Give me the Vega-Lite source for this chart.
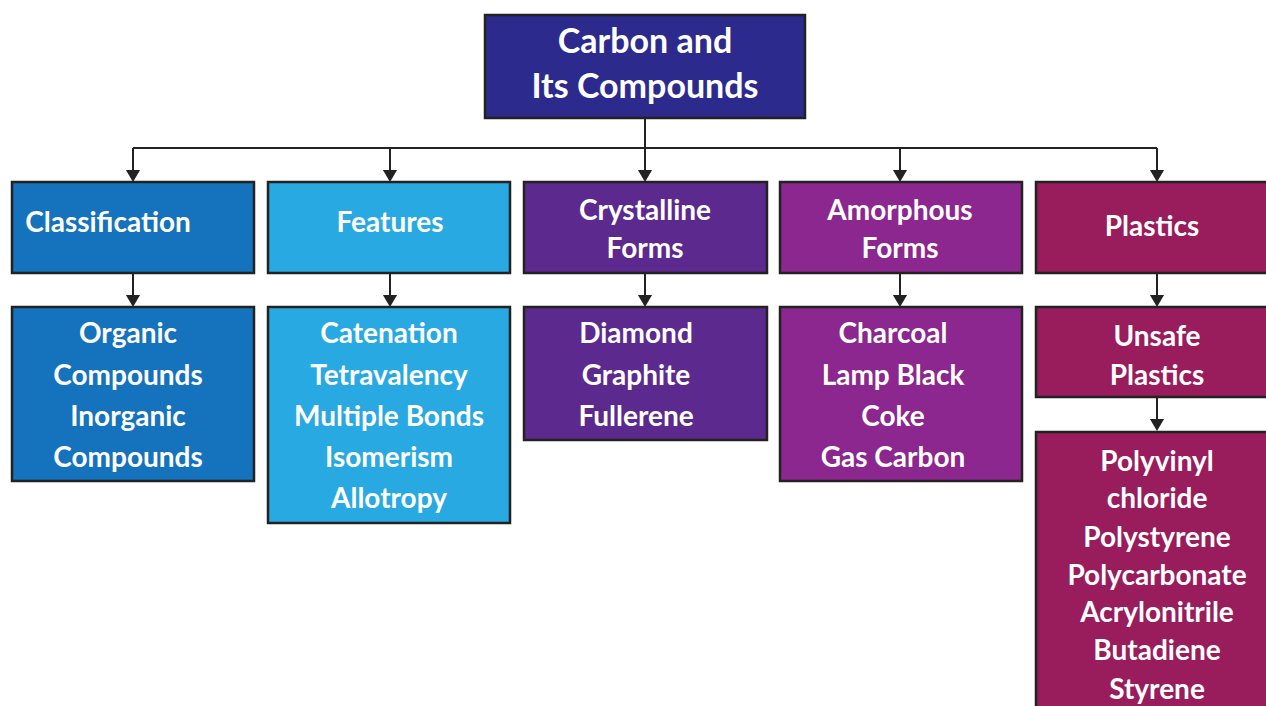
{
  "$schema": "https://vega.github.io/schema/vega-lite/v6.json",
  "width": 1266,
  "height": 706,
  "padding": 0,
  "autosize": {"type": "none"},
  "background": "white",
  "config": {"view": {"stroke": null}},
  "datasets": {
    "boxes": [
      {"id": "root", "group": "root", "x": 485, "x2": 805, "y": 15, "y2": 118},
      {"id": "c1", "group": "classification", "x": 12, "x2": 254, "y": 182, "y2": 273},
      {"id": "c2", "group": "features", "x": 268, "x2": 510, "y": 182, "y2": 273},
      {"id": "c3", "group": "crystalline", "x": 524, "x2": 767, "y": 182, "y2": 273},
      {"id": "c4", "group": "amorphous", "x": 780, "x2": 1022, "y": 182, "y2": 273},
      {"id": "c5", "group": "plastics", "x": 1036, "x2": 1275, "y": 182, "y2": 273},
      {"id": "d1", "group": "classification", "x": 12, "x2": 254, "y": 307, "y2": 481},
      {"id": "d2", "group": "features", "x": 268, "x2": 510, "y": 307, "y2": 523},
      {"id": "d3", "group": "crystalline", "x": 524, "x2": 767, "y": 307, "y2": 440},
      {"id": "d4", "group": "amorphous", "x": 780, "x2": 1022, "y": 307, "y2": 481},
      {"id": "d5", "group": "plastics", "x": 1036, "x2": 1275, "y": 307, "y2": 397},
      {"id": "e5", "group": "plastics", "x": 1036, "x2": 1275, "y": 432, "y2": 715}
    ],
    "lines": [
      {"x": 645, "x2": 645, "y": 118, "y2": 176},
      {"x": 133, "x2": 1157, "y": 148, "y2": 148},
      {"x": 133, "x2": 133, "y": 148, "y2": 176},
      {"x": 390, "x2": 390, "y": 148, "y2": 176},
      {"x": 900, "x2": 900, "y": 148, "y2": 176},
      {"x": 1157, "x2": 1157, "y": 148, "y2": 176},
      {"x": 133, "x2": 133, "y": 273, "y2": 301},
      {"x": 390, "x2": 390, "y": 273, "y2": 301},
      {"x": 645, "x2": 645, "y": 273, "y2": 301},
      {"x": 900, "x2": 900, "y": 273, "y2": 301},
      {"x": 1157, "x2": 1157, "y": 273, "y2": 301},
      {"x": 1157, "x2": 1157, "y": 397, "y2": 425}
    ],
    "arrows": [
      {"x": 133, "y": 176}, {"x": 390, "y": 176}, {"x": 645, "y": 176}, {"x": 900, "y": 176}, {"x": 1157, "y": 176},
      {"x": 133, "y": 301}, {"x": 390, "y": 301}, {"x": 645, "y": 301}, {"x": 900, "y": 301}, {"x": 1157, "y": 301},
      {"x": 1157, "y": 425}
    ],
    "titleText": [
      {"text": "Carbon and", "x": 645, "y": 42},
      {"text": "Its Compounds", "x": 645, "y": 87}
    ],
    "labels": [
      {"text": "Classification", "x": 108, "y": 222},
      {"text": "Features", "x": 390, "y": 222},
      {"text": "Crystalline", "x": 645, "y": 210},
      {"text": "Forms", "x": 645, "y": 248},
      {"text": "Amorphous", "x": 900, "y": 210},
      {"text": "Forms", "x": 900, "y": 248},
      {"text": "Plastics", "x": 1152, "y": 226},
      {"text": "Organic", "x": 128, "y": 333},
      {"text": "Compounds", "x": 128, "y": 375},
      {"text": "Inorganic", "x": 128, "y": 416},
      {"text": "Compounds", "x": 128, "y": 457},
      {"text": "Catenation", "x": 389, "y": 333},
      {"text": "Tetravalency", "x": 389, "y": 375},
      {"text": "Multiple Bonds", "x": 389, "y": 416},
      {"text": "Isomerism", "x": 389, "y": 457},
      {"text": "Allotropy", "x": 389, "y": 498},
      {"text": "Diamond", "x": 636, "y": 333},
      {"text": "Graphite", "x": 636, "y": 375},
      {"text": "Fullerene", "x": 636, "y": 416},
      {"text": "Charcoal", "x": 893, "y": 333},
      {"text": "Lamp Black", "x": 893, "y": 375},
      {"text": "Coke", "x": 893, "y": 416},
      {"text": "Gas Carbon", "x": 893, "y": 457},
      {"text": "Unsafe", "x": 1157, "y": 336},
      {"text": "Plastics", "x": 1157, "y": 375},
      {"text": "Polyvinyl", "x": 1157, "y": 461},
      {"text": "chloride", "x": 1157, "y": 498},
      {"text": "Polystyrene", "x": 1157, "y": 537},
      {"text": "Polycarbonate", "x": 1157, "y": 575},
      {"text": "Acrylonitrile", "x": 1157, "y": 612},
      {"text": "Butadiene", "x": 1157, "y": 650},
      {"text": "Styrene", "x": 1157, "y": 689}
    ]
  },
  "layer": [
    {
      "data": {"name": "boxes"},
      "mark": {"type": "rect", "stroke": "#222222", "strokeWidth": 2.5},
      "encoding": {
        "x": {"field": "x", "type": "quantitative", "scale": {"domain": [0, 1266], "nice": false, "zero": false}, "axis": null},
        "x2": {"field": "x2"},
        "y": {"field": "y", "type": "quantitative", "scale": {"domain": [0, 706], "reverse": true, "nice": false, "zero": false}, "axis": null},
        "y2": {"field": "y2"},
        "color": {
          "field": "group", "type": "nominal", "legend": null,
          "scale": {
            "domain": ["root", "classification", "features", "crystalline", "amorphous", "plastics"],
            "range": ["#2d2a8e", "#1572bd", "#29a9e1", "#5c2a8e", "#8c278f", "#991c5d"]
          }
        }
      }
    },
    {
      "data": {"name": "lines"},
      "mark": {"type": "rule", "color": "#222222", "strokeWidth": 2},
      "encoding": {
        "x": {"field": "x", "type": "quantitative"},
        "x2": {"field": "x2"},
        "y": {"field": "y", "type": "quantitative"},
        "y2": {"field": "y2"}
      }
    },
    {
      "data": {"name": "arrows"},
      "mark": {"type": "point", "shape": "triangle-down", "filled": true, "color": "#222222", "size": 200, "opacity": 1},
      "encoding": {
        "x": {"field": "x", "type": "quantitative"},
        "y": {"field": "y", "type": "quantitative"}
      }
    },
    {
      "data": {"name": "titleText"},
      "mark": {"type": "text", "font": "Lato", "fontWeight": "bold", "fontSize": 34, "color": "white", "baseline": "middle", "align": "center", "dy": 1},
      "encoding": {
        "x": {"field": "x", "type": "quantitative"},
        "y": {"field": "y", "type": "quantitative"},
        "text": {"field": "text"}
      }
    },
    {
      "data": {"name": "labels"},
      "mark": {"type": "text", "font": "Lato", "fontWeight": "bold", "fontSize": 28, "color": "white", "baseline": "middle", "align": "center", "dy": 2},
      "encoding": {
        "x": {"field": "x", "type": "quantitative"},
        "y": {"field": "y", "type": "quantitative"},
        "text": {"field": "text"}
      }
    }
  ]
}
